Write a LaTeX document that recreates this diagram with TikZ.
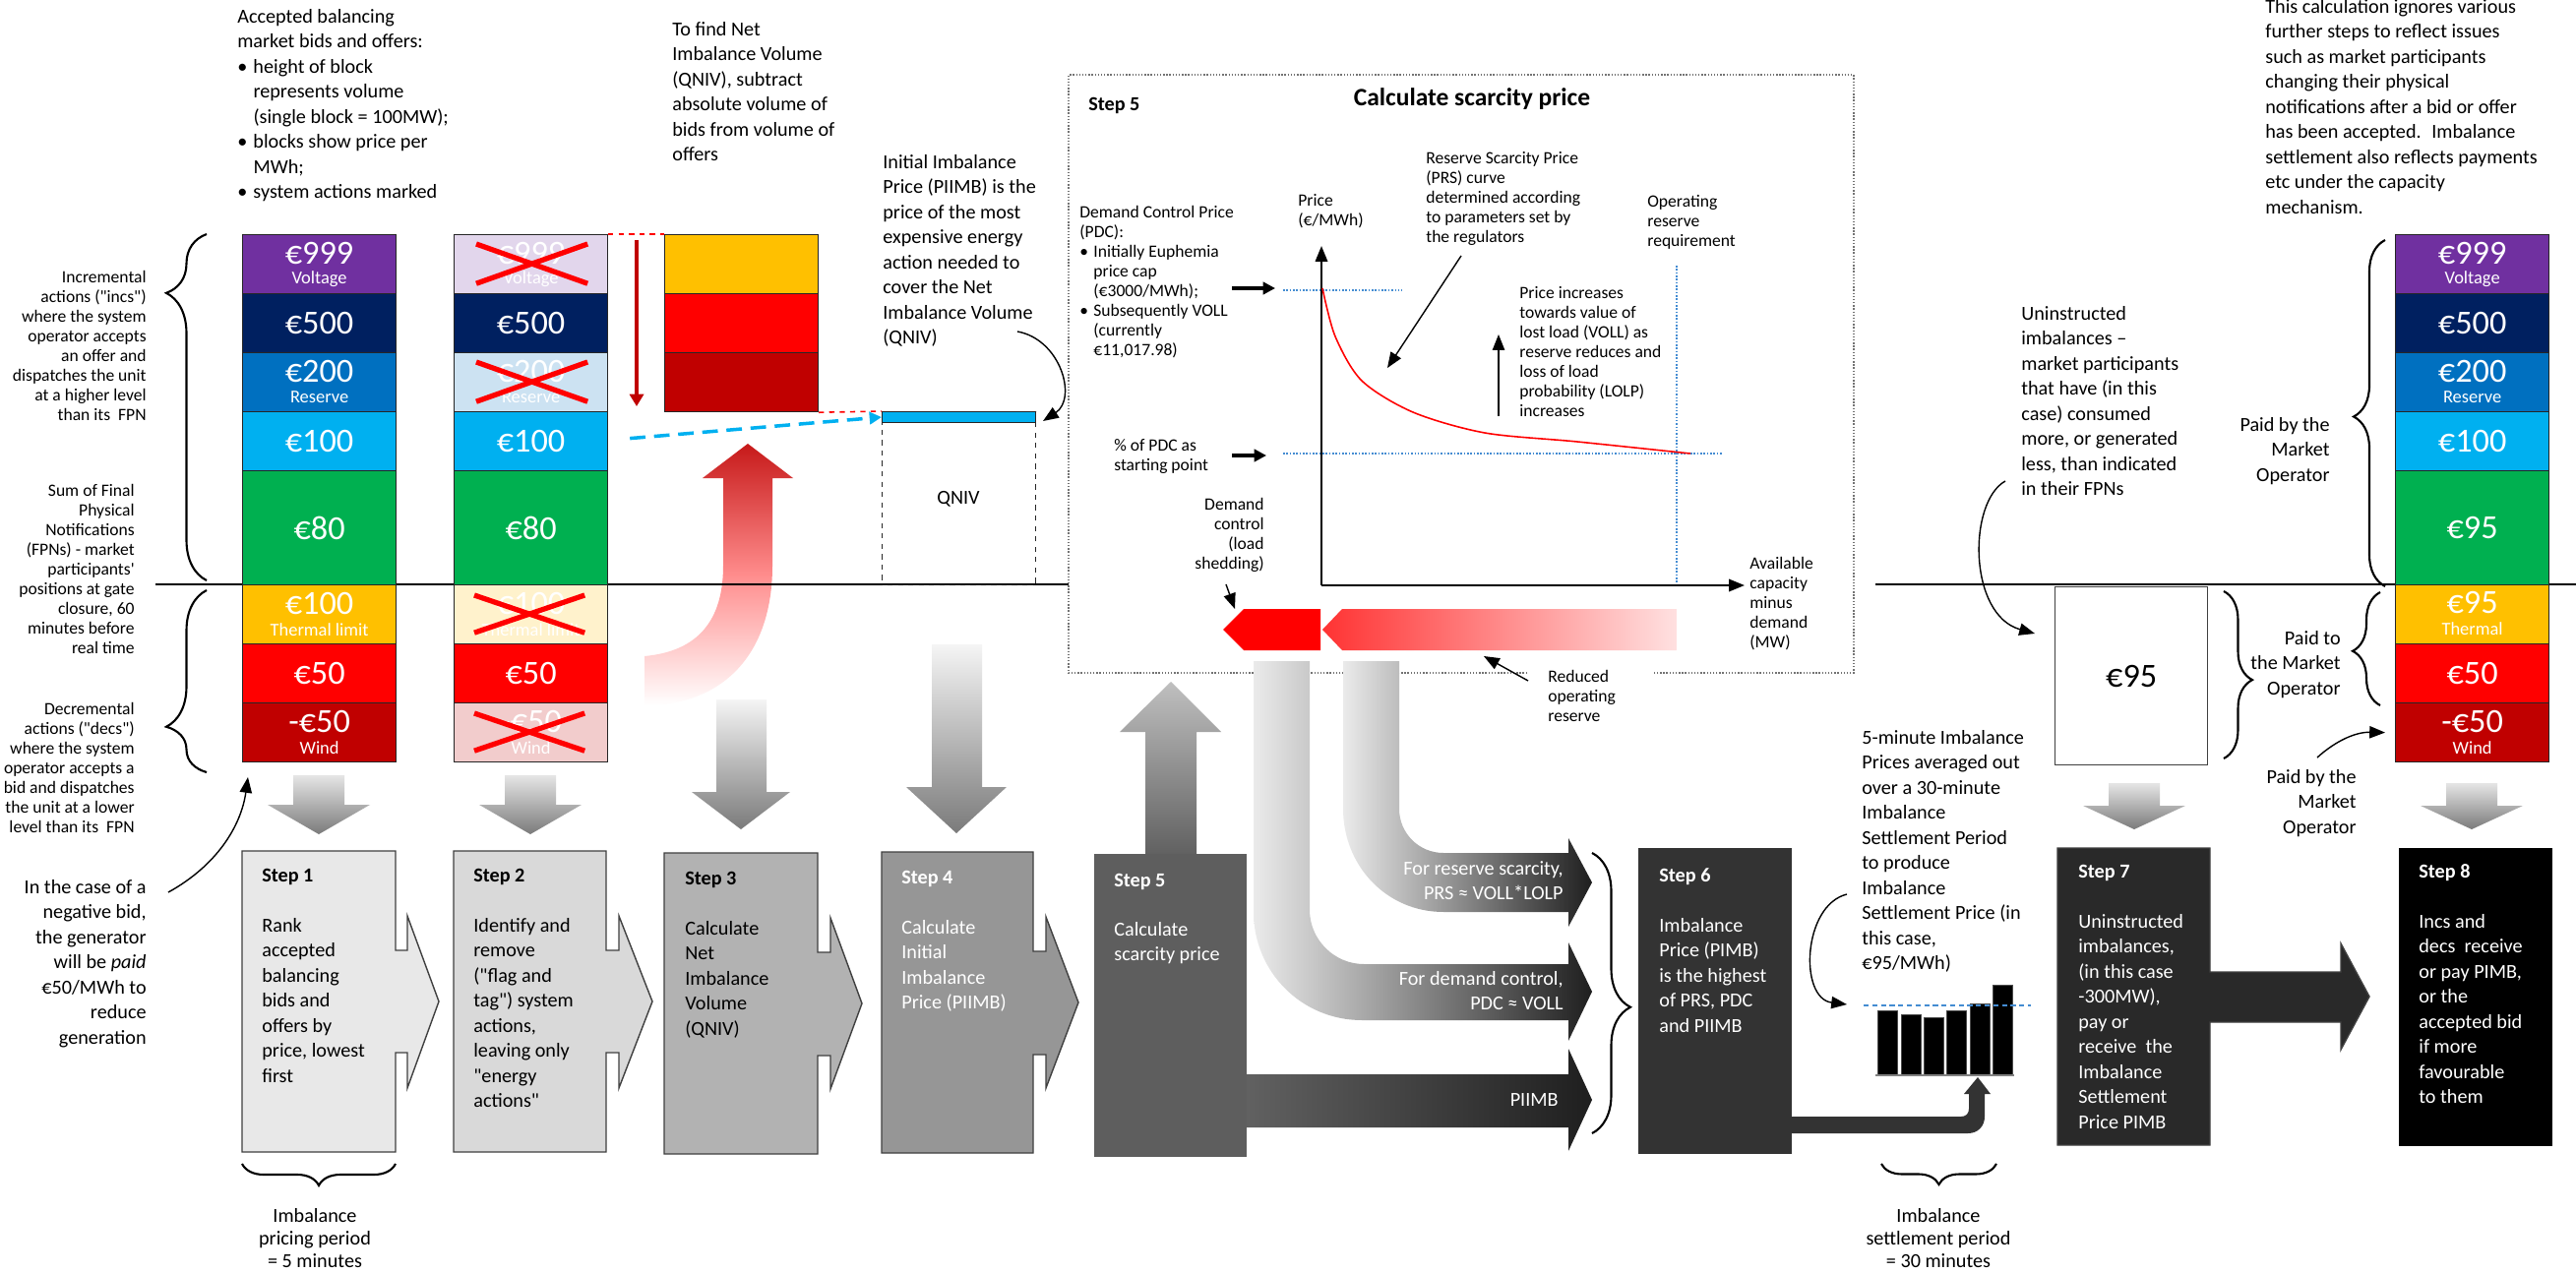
\documentclass[tikz,border=0pt]{standalone}
\usepackage{fontspec}
\setmainfont{Carlito}[Ligatures=TeXOff]
\usepackage{tikz}
\usetikzlibrary{calc,positioning,arrows.meta,decorations.pathreplacing}
\usepackage{xcolor}
\definecolor{mypurple}{RGB}{112,48,160}
\definecolor{mynavy}{RGB}{0,32,96}
\definecolor{myblue}{RGB}{0,112,192}
\definecolor{mycyan}{RGB}{0,176,240}
\definecolor{mygreen}{RGB}{0,176,80}
\definecolor{myyellow}{RGB}{255,192,0}
\definecolor{myred}{RGB}{255,0,0}
\definecolor{mydarkred}{RGB}{192,0,0}
\definecolor{mydots}{RGB}{68,140,210}
\newcommand{\bulitem}{\makebox[0.8em][l]{•}}
\newcommand{\bulind}{\hspace*{0.8em}}

\begin{document}
\begin{tikzpicture}[x=0.02cm, y=-0.02cm,
  txt/.style={inner sep=0pt, align=left, font=\fontsize{11.5}{14.5}\selectfont},
  smalltxt/.style={inner sep=0pt, align=left, font=\fontsize{10}{11.4}\selectfont},
  blk/.style={draw=black!85, line width=0.7pt, minimum width=3.12cm, minimum height=1.2cm, inner sep=0pt, anchor=north west},
  price/.style={inner sep=0pt, text=white, font=\fontsize{19.5}{20}\selectfont},
  sub/.style={inner sep=0pt, text=white, font=\fontsize{10.5}{11}\selectfont},
  xmark/.style={myred, line width=3pt},
  steptitle/.style={inner sep=0pt, anchor=west, font=\bfseries\fontsize{11.5}{14.5}\selectfont},
  stepbody/.style={txt, anchor=north west},
  stepline/.style={draw=black!75, line width=0.8pt},
  gdown/.style={top color=black!10, bottom color=black!52},
  brc/.style={decorate, line width=1.2pt},
  annot/.style={-{Triangle[length=9pt, width=7pt]}, line width=0.8pt},
  fatannot/.style={-{Triangle[length=7pt, width=7pt]}, line width=1.8pt},
  dotblue/.style={mydots, densely dotted, line width=0.9pt},
]
\fill[white] (0,0) rectangle (2618,1294);
\useasboundingbox (0,0) rectangle (2618,1294);

% big red arrow (QNIV)
\shade[top color=mydarkred!90, bottom color=white, middle color=myred!45] (655,667) .. controls (710,662) and (735,630) .. (735,575) -- (735,486) -- (714,486) -- (760,451) -- (806,486) -- (785,486) -- (785,575) .. controls (785,665) and (735,717) .. (655,717) -- cycle;

\draw[line width=1pt] (158,594) -- (1086,594);
\draw[line width=1pt] (1906,594) -- (2618,594);

% Texts on the left
\node[txt, anchor=north west] (intro) at (241,9) {Accepted balancing\\market bids and offers:\\\bulitem height of block\\\bulind represents volume\\\bulind (single block = 100MW);\\\bulitem blocks show price per\\\bulind MWh;\\\bulitem system actions marked};
\node[smalltxt, align=right, anchor=north east] (incs) at (149,275) {Incremental\\actions ("incs")\\where the system\\operator accepts\\an offer and\\dispatches the unit\\at a higher level\\than its \ FPN};
\node[smalltxt, align=right, anchor=north east] (fpns) at (137,492) {Sum of Final\\Physical\\Notifications\\(FPNs) - market\\participants'\\positions at gate\\closure, 60\\minutes before\\real time};
\node[smalltxt, align=right, anchor=north east] (decs) at (137,714) {Decremental\\actions ("decs")\\where the system\\operator accepts a\\bid and dispatches\\the unit at a lower\\level than its \ FPN};
\node[txt, align=right, anchor=north east] (incase) at (149,894) {In the case of a\\negative bid,\\the generator\\will be \emph{paid}\\€50/MWh to\\reduce\\generation};

\draw[brc, decoration={brace, amplitude=0.82cm, aspect=0.83}] (210,590) -- (210,238);
\draw[brc, decoration={brace, amplitude=0.82cm, aspect=0.25}] (210,785) -- (210,600);

% Column 1
\node[blk, fill=mypurple] (c1a) at (246,238) {};
\node[price, yshift=-0.4cm] (c1at) at (c1a.north) {€999};
\node[sub, yshift=-0.92cm] (c1as) at (c1a.north) {Voltage};
\node[blk, fill=mynavy, price] (c1b) at (246,298) {€500};
\node[blk, fill=myblue] (c1c) at (246,358) {};
\node[price, yshift=-0.4cm] (c1ct) at (c1c.north) {€200};
\node[sub, yshift=-0.92cm] (c1cs) at (c1c.north) {Reserve};
\node[blk, fill=mycyan, price] (c1d) at (246,418) {€100};
\node[blk, fill=mygreen, price, minimum height=2.32cm] (c1e) at (246,478) {€80};
\node[blk, fill=myyellow] (c1f) at (246,594) {};
\node[price, yshift=-0.4cm] (c1ft) at (c1f.north) {€100};
\node[sub, yshift=-0.92cm] (c1fs) at (c1f.north) {Thermal limit};
\node[blk, fill=myred, price] (c1g) at (246,654) {€50};
\node[blk, fill=mydarkred] (c1h) at (246,714) {};
\node[price, yshift=-0.4cm] (c1ht) at (c1h.north) {-€50};
\node[sub, yshift=-0.92cm] (c1hs) at (c1h.north) {Wind};

% Column 2
\node[blk, fill=mypurple!20] (c2a) at (461,238) {};
\node[price, yshift=-0.4cm] (c2at) at (c2a.north) {€999};
\node[sub, yshift=-0.92cm] (c2as) at (c2a.north) {Voltage};
\node[blk, fill=mynavy, price] (c2b) at (461,298) {€500};
\node[blk, fill=myblue!20] (c2c) at (461,358) {};
\node[price, yshift=-0.4cm] (c2ct) at (c2c.north) {€200};
\node[sub, yshift=-0.92cm] (c2cs) at (c2c.north) {Reserve};
\node[blk, fill=mycyan, price] (c2d) at (461,418) {€100};
\node[blk, fill=mygreen, price, minimum height=2.32cm] (c2e) at (461,478) {€80};
\node[blk, fill=myyellow!20] (c2f) at (461,594) {};
\node[price, yshift=-0.4cm] (c2ft) at (c2f.north) {€100};
\node[sub, yshift=-0.92cm] (c2fs) at (c2f.north) {Thermal limit};
\node[blk, fill=myred, price] (c2g) at (461,654) {€50};
\node[blk, fill=mydarkred!20] (c2h) at (461,714) {};
\node[price, yshift=-0.4cm] (c2ht) at (c2h.north) {-€50};
\node[sub, yshift=-0.92cm] (c2hs) at (c2h.north) {Wind};
\draw[xmark] ([shift={(23,10)}]c2a.north west) -- ([shift={(-21,-11)}]c2a.south east);
\draw[xmark] ([shift={(23,-11)}]c2a.south west) -- ([shift={(-21,10)}]c2a.north east);
\draw[xmark] ([shift={(23,10)}]c2c.north west) -- ([shift={(-21,-11)}]c2c.south east);
\draw[xmark] ([shift={(23,-11)}]c2c.south west) -- ([shift={(-21,10)}]c2c.north east);
\draw[xmark] ([shift={(21,11)}]c2f.north west) -- ([shift={(-24,-12)}]c2f.south east);
\draw[xmark] ([shift={(21,-12)}]c2f.south west) -- ([shift={(-24,11)}]c2f.north east);
\draw[xmark] ([shift={(21,11)}]c2h.north west) -- ([shift={(-24,-12)}]c2h.south east);
\draw[xmark] ([shift={(21,-12)}]c2h.south west) -- ([shift={(-24,11)}]c2h.north east);

% Column 3 and QNIV
\node[txt, anchor=north west] (findq) at (683,22) {To find Net\\Imbalance Volume\\(QNIV), subtract\\absolute volume of\\bids from volume of\\offers};
\node[blk, fill=myyellow] (c3a) at (675,238) {};
\node[blk, fill=myred] (c3b) at (675,298) {};
\node[blk, fill=mydarkred] (c3c) at (675,358) {};
\draw[myred, dashed, line width=0.9pt] (c2a.north east) -- (c3a.north west);
\coordinate (rdtop) at (647,244);
\coordinate (rdbot) at (647,413);
\draw[mydarkred, line width=2.5pt, -{Triangle[length=7pt, width=8pt]}] (rdtop) -- (rdbot);

\node[draw=black!85, dashed, line width=0.8pt, minimum width=3.12cm, minimum height=3.52cm, anchor=north west, inner sep=0pt] (qbox) at (896,418) {};
\node[draw=black!85, fill=mycyan, line width=0.6pt, minimum width=3.12cm, minimum height=0.22cm, anchor=north west, inner sep=0pt] (qbar) at (896,418) {};
\node[txt] (qlab) at (974,507) {QNIV};
\draw[myred, dashed, line width=0.9pt] (c3c.south east) -- (qbox.north west);
\draw[mycyan, dashed, line width=2pt, dash pattern=on 9pt off 5pt, -{Triangle[length=7pt, width=7pt]}] ($(c2d.east)+(22,-3)$) -- (qbar.west);

\node[txt, anchor=north west] (piimbt) at (897,157) {Initial Imbalance\\Price (PIIMB) is the\\price of the most\\expensive energy\\action needed to\\cover the Net\\Imbalance Volume\\(QNIV)};
\coordinate (a2s) at (1034,337);
\coordinate (a2e) at (1060,428);
\draw[annot] (a2s) .. controls (1078,345) and (1095,405) .. (a2e);

% Step 5 frame
\draw[black!55, densely dotted, line width=0.8pt] (1552,684) -- (1086,684) -- (1086,76) -- (1884,76) -- (1884,684) -- (1680,684);
\node[steptitle] (f5t) at (1106,107) {Step 5};
\node[inner sep=0pt, font=\bfseries\fontsize{14.5}{16}\selectfont] (title5) at (1496,101) {Calculate scarcity price};
\node[smalltxt, anchor=north west] (pricel) at (1319,197) {Price\\(€/MWh)};
\node[smalltxt, anchor=north west] (pdct) at (1097,209) {Demand Control Price\\(PDC):\\\bulitem Initially Euphemia\\\bulind price cap\\\bulind (€3000/MWh);\\\bulitem Subsequently VOLL\\\bulind (currently\\\bulind €11,017.98)};
\node[smalltxt, anchor=north west] (pctt) at (1132,446) {\% of PDC as\\starting point};
\node[smalltxt, anchor=north west] (oprr) at (1674,198) {Operating\\reserve\\requirement};
\node[smalltxt, anchor=north west] (prst) at (1449,154) {Reserve Scarcity Price\\(PRS) curve\\determined according\\to parameters set by\\the regulators};
\node[smalltxt, anchor=north west] (incr) at (1544,291) {Price increases\\towards value of\\lost load (VOLL) as\\reserve reduces and\\loss of load\\probability (LOLP)\\increases};
\node[smalltxt, align=right, anchor=north east] (dctl) at (1285,506) {Demand\\control\\(load\\shedding)};
\node[smalltxt, anchor=north west] (avail) at (1778,566) {Available\\capacity\\minus\\demand\\(MW)};
\node[smalltxt, anchor=north west] (redr) at (1573,681) {Reduced\\operating\\reserve};

\coordinate (orig) at (1343,595);
\coordinate (ytop) at (1343,250);
\coordinate (xend) at (1773,595);
\draw[dotblue] (1304,295) -- (1425,295);
\draw[dotblue] (1304,461) -- (1750,461);
\draw[dotblue] (1704,270) -- (1704,595);
\draw[line width=1.3pt, -{Triangle[length=9pt, width=7pt]}] (orig) -- (ytop);
\draw[line width=1.3pt, -{Triangle[length=9pt, width=7pt]}] (orig) -- (xend);
\draw[myred, line width=0.9pt] plot[smooth, tension=0.5] coordinates {(1344,293) (1357,342) (1384,387) (1436,419) (1509,440) (1603,449) (1718,461)};

\coordinate (p1s) at (1252,293);
\coordinate (p1e) at (1296,293);
\coordinate (p2s) at (1252,463);
\coordinate (p2e) at (1287,463);
\draw[fatannot] (p1s) -- (p1e);
\draw[fatannot] (p2s) -- (p2e);
\coordinate (prs1) at (1485,260);
\coordinate (prs2) at (1410,374);
\draw[annot] (prs1) -- (prs2);
\coordinate (up1) at (1523,423);
\coordinate (up2) at (1523,340);
\draw[annot] (up1) -- (up2);
\coordinate (dc1) at (1246,594);
\coordinate (dc2) at (1255,619);
\draw[annot] (dc1) -- (dc2);
\coordinate (rr1) at (1553,692);
\coordinate (rr2) at (1508,667);
\draw[annot] (rr1) -- (rr2);

\fill[myred] (1243,640) -- (1264,619) -- (1342,619) -- (1342,661) -- (1264,661) -- cycle;
\shade[left color=myred!80, right color=myred!12] (1344,640) -- (1364,619) -- (1704,619) -- (1704,661) -- (1364,661) -- cycle;

% Grey arrows
\shade[gdown] (298,788) -- (350,788) -- (350,818) -- (376,818) -- (324,848) -- (272,818) -- (298,818) -- cycle;
\shade[gdown] (513,788) -- (565,788) -- (565,818) -- (591,818) -- (539,848) -- (487,818) -- (513,818) -- cycle;
\shade[gdown, top color=black!4] (728,711) -- (779,711) -- (779,805) -- (803,805) -- (753,843) -- (703,805) -- (728,805) -- cycle;
\shade[gdown, top color=black!4] (947,655) -- (998,655) -- (998,800) -- (1023,800) -- (972,847) -- (921,800) -- (947,800) -- cycle;
\shade[gdown] (2143,796) -- (2195,796) -- (2195,819) -- (2221,819) -- (2169,843) -- (2117,819) -- (2143,819) -- cycle;
\shade[gdown] (2486,796) -- (2538,796) -- (2538,819) -- (2564,819) -- (2512,843) -- (2460,819) -- (2486,819) -- cycle;
\shade[top color=black!25, bottom color=black!62] (1164,868) -- (1164,744) -- (1138,744) -- (1190,693) -- (1241,744) -- (1216,744) -- (1216,868) -- cycle;

% Arrows into step 6
\shade[left color=black!8, right color=black!88] (1365,672) -- (1365,822) .. controls (1365,880) and (1409,927) .. (1467,927) -- (1594,927) -- (1594,942) -- (1618,897) -- (1594,852) -- (1594,867) -- (1467,867) .. controls (1442,867) and (1422,847) .. (1422,822) -- (1422,672) -- cycle;
\shade[left color=black!8, right color=black!88] (1274,672) -- (1274,927) .. controls (1274,988) and (1323,1037) .. (1384,1037) -- (1594,1037) -- (1594,1058) -- (1618,1008) -- (1594,958) -- (1594,980) -- (1386,980) .. controls (1356,980) and (1331,955) .. (1331,925) -- (1331,672) -- cycle;
\shade[left color=black!62, right color=black!88] (1267,1092) -- (1594,1092) -- (1594,1066) -- (1618,1118) -- (1594,1170) -- (1594,1146) -- (1267,1146) -- cycle;
\node[txt, align=right, anchor=north east, text=white] (rsv) at (1589,875) {For reserve scarcity,\\PRS ≈ VOLL*LOLP};
\node[txt, align=right, anchor=north east, text=white] (dmd) at (1589,987) {For demand control,\\PDC ≈ VOLL};
\node[txt, anchor=east, text=white] (pii) at (1584,1118) {PIIMB};
\draw[brc, decoration={brace, amplitude=0.78cm, aspect=0.55}] (1618,867) -- (1618,1152);

% Steps
\filldraw[stepline, fill=black!9] (246,865) -- (402,865) -- (402,966) -- (414,966) -- (414,931) -- (446,1018) -- (414,1106) -- (414,1070) -- (402,1070) -- (402,1171) -- (246,1171) -- cycle;
\node[steptitle] (s1t) at (266,891) {Step 1};
\node[stepbody] (s1b) at (266,933) {Rank\\accepted\\balancing\\bids and\\offers by\\price, lowest\\first};
\filldraw[stepline, fill=black!15] (461,865) -- (616,865) -- (616,966) -- (629,966) -- (629,931) -- (663,1018) -- (629,1106) -- (629,1070) -- (616,1070) -- (616,1171) -- (461,1171) -- cycle;
\node[steptitle] (s2t) at (481,891) {Step 2};
\node[stepbody] (s2b) at (481,933) {Identify and\\remove\\("flag and\\tag") system\\actions,\\leaving only\\"energy\\actions"};
\filldraw[stepline, fill=black!30] (675,867) -- (831,867) -- (831,968) -- (844,968) -- (844,933) -- (876,1020) -- (844,1107) -- (844,1073) -- (831,1073) -- (831,1173) -- (675,1173) -- cycle;
\node[steptitle] (s3t) at (696,894) {Step 3};
\node[stepbody] (s3b) at (696,936) {Calculate\\Net\\Imbalance\\Volume\\(QNIV)};
\filldraw[stepline, fill=black!41] (896,866) -- (1050,866) -- (1050,967) -- (1063,967) -- (1063,932) -- (1096,1019) -- (1063,1106) -- (1063,1072) -- (1050,1072) -- (1050,1172) -- (896,1172) -- cycle;
\node[steptitle, text=white] (s4t) at (916,893) {Step 4};
\node[stepbody, text=white] (s4b) at (916,935) {Calculate\\Initial\\Imbalance\\Price (PIIMB)};
\node[fill=black!63, minimum width=3.1cm, minimum height=6.16cm, anchor=north west, inner sep=0pt] (s5) at (1112,868) {};
\node[steptitle, text=white] (s5t) at (1132,896) {Step 5};
\node[stepbody, text=white] (s5b) at (1132,937) {Calculate\\scarcity price};
\node[fill=black!80, minimum width=3.12cm, minimum height=6.22cm, anchor=north west, inner sep=0pt] (s6) at (1665,862) {};
\node[steptitle, text=white] (s6t) at (1686,891) {Step 6};
\node[stepbody, text=white] (s6b) at (1686,933) {Imbalance\\Price (PIMB)\\is the highest\\of PRS, PDC\\and PIIMB};
\filldraw[stepline, fill=black!84] (2091,862) -- (2246,862) -- (2246,988) -- (2379,988) -- (2379,959) -- (2408,1013) -- (2379,1067) -- (2379,1039) -- (2246,1039) -- (2246,1164) -- (2091,1164) -- cycle;
\node[steptitle, text=white] (s7t) at (2112,887) {Step 7};
\node[stepbody, text=white] (s7b) at (2112,929) {Uninstructed\\imbalances,\\(in this case\\-300MW),\\pay or\\receive \ the\\Imbalance\\Settlement\\Price PIMB};
\node[fill=black, minimum width=3.12cm, minimum height=6.06cm, anchor=north west, inner sep=0pt] (s8) at (2438,862) {};
\node[steptitle, text=white] (s8t) at (2458,887) {Step 8};
\node[stepbody, text=white] (s8b) at (2458,929) {Incs and\\decs \ receive\\or pay PIMB,\\or the\\accepted bid\\if more\\favourable\\to them};

% Periods
\draw[brc, decoration={brace, amplitude=0.44cm}] (402,1183) -- (246,1183);
\node[txt, align=center, anchor=north, font=\fontsize{11.5}{13}\selectfont] (per5) at (320,1228) {Imbalance\\pricing period\\= 5 minutes};
\draw[brc, decoration={brace, amplitude=0.42cm}] (2029,1183) -- (1912,1183);
\node[txt, align=center, anchor=north, font=\fontsize{11.5}{13}\selectfont] (per30) at (1970,1228) {Imbalance\\settlement period\\= 30 minutes};

% Histogram of 5-minute prices
\fill[black!80] (1821,1135) -- (1993,1135) .. controls (1998,1135) and (2001,1132) .. (2001,1127) -- (2001,1112) -- (1996,1112) -- (2010,1095) -- (2023,1112) -- (2017,1112) -- (2017,1135) .. controls (2017,1145) and (2010,1152) .. (2000,1152) -- (1821,1152) -- cycle;
\foreach \x/\t in {1908/1027,1932/1031,1955/1034,1978/1027,2002/1020,2025/1001}
  \filldraw[fill=black, draw=black!70] (\x,\t) rectangle (\x+20,1093);
\draw[black!50, line width=1pt] (1906,1093) -- (2047,1093);
\draw[mydots, densely dashed, line width=1.2pt] (1894,1022) -- (2064,1022);
\node[txt, anchor=north west] (avg) at (1892,742) {5-minute Imbalance\\Prices averaged out\\over a 30-minute\\Imbalance\\Settlement Period\\to produce\\Imbalance\\Settlement Price (in\\this case,\\€95/MWh)};
\coordinate (a3s) at (1877,909);
\coordinate (a3e) at (1877,1021);
\draw[annot] (a3s) .. controls (1832,920) and (1828,1015) .. (a3e);

% Right side
\node[txt, anchor=north west] (ignore) at (2302,-1) {This calculation ignores various\\further steps to reflect issues\\such as market participants\\changing their physical\\notifications after a bid or offer\\has been accepted. \ Imbalance\\settlement also reflects payments\\etc under the capacity\\mechanism.};
\node[txt, anchor=north west] (unins) at (2054,311) {Uninstructed\\imbalances –\\market participants\\that have (in this\\case) consumed\\more, or generated\\less, than indicated\\in their FPNs};
\node[draw=black!75, line width=0.8pt, minimum width=3.1cm, minimum height=3.62cm, anchor=north west, inner sep=0pt, font=\fontsize{19.5}{20}\selectfont] (e95) at (2088,596) {€95};
\coordinate (a4s) at (2038,489);
\draw[annot] (a4s) .. controls (2000,510) and (2000,625) .. ([xshift=-0.4cm]e95.west |- 0,644);
\draw[brc, decoration={brace, amplitude=0.58cm, aspect=0.53}] (2260,601) -- (2260,771);

\node[blk, fill=mypurple] (r1a) at (2434,238) {};
\node[price, yshift=-0.4cm] (r1at) at (r1a.north) {€999};
\node[sub, yshift=-0.92cm] (r1as) at (r1a.north) {Voltage};
\node[blk, fill=mynavy, price] (r1b) at (2434,298) {€500};
\node[blk, fill=myblue] (r1c) at (2434,358) {};
\node[price, yshift=-0.4cm] (r1ct) at (r1c.north) {€200};
\node[sub, yshift=-0.92cm] (r1cs) at (r1c.north) {Reserve};
\node[blk, fill=mycyan, price] (r1d) at (2434,418) {€100};
\node[blk, fill=mygreen, price, minimum height=2.32cm] (r1e) at (2434,478) {€95};
\node[blk, fill=myyellow] (r1f) at (2434,594) {};
\node[price, yshift=-0.38cm] (r1ft) at (r1f.north) {€95};
\node[sub, yshift=-0.9cm] (r1fs) at (r1f.north) {Thermal};
\node[blk, fill=myred, price] (r1g) at (2434,654) {€50};
\node[blk, fill=mydarkred] (r1h) at (2434,714) {};
\node[price, yshift=-0.4cm] (r1ht) at (r1h.north) {-€50};
\node[sub, yshift=-0.92cm] (r1hs) at (r1h.north) {Wind};

\draw[brc, decoration={brace, amplitude=0.64cm, aspect=0.49}] (2424,596) -- (2424,244);
\draw[brc, decoration={brace, amplitude=0.56cm, aspect=0.48}] (2419,717) -- (2419,602);
\node[txt, align=right, anchor=north east] (paid1) at (2368,424) {Paid by the\\Market\\Operator};
\node[txt, align=right, anchor=north east] (paid2) at (2379,641) {Paid to\\the Market\\Operator};
\node[txt, align=right, anchor=north east] (paid3) at (2395,782) {Paid by the\\Market\\Operator};
\coordinate (a5s) at (2355,770);
\draw[annot] (a5s) .. controls (2375,752) and (2395,744) .. ([xshift=-0.2cm]r1h.west);

% Arrow to column 1
\coordinate (a1s) at (171,907);
\coordinate (a1e) at (252,790);
\draw[annot] (a1s) .. controls (220,880) and (245,840) .. (a1e);
\end{tikzpicture}
\end{document}
